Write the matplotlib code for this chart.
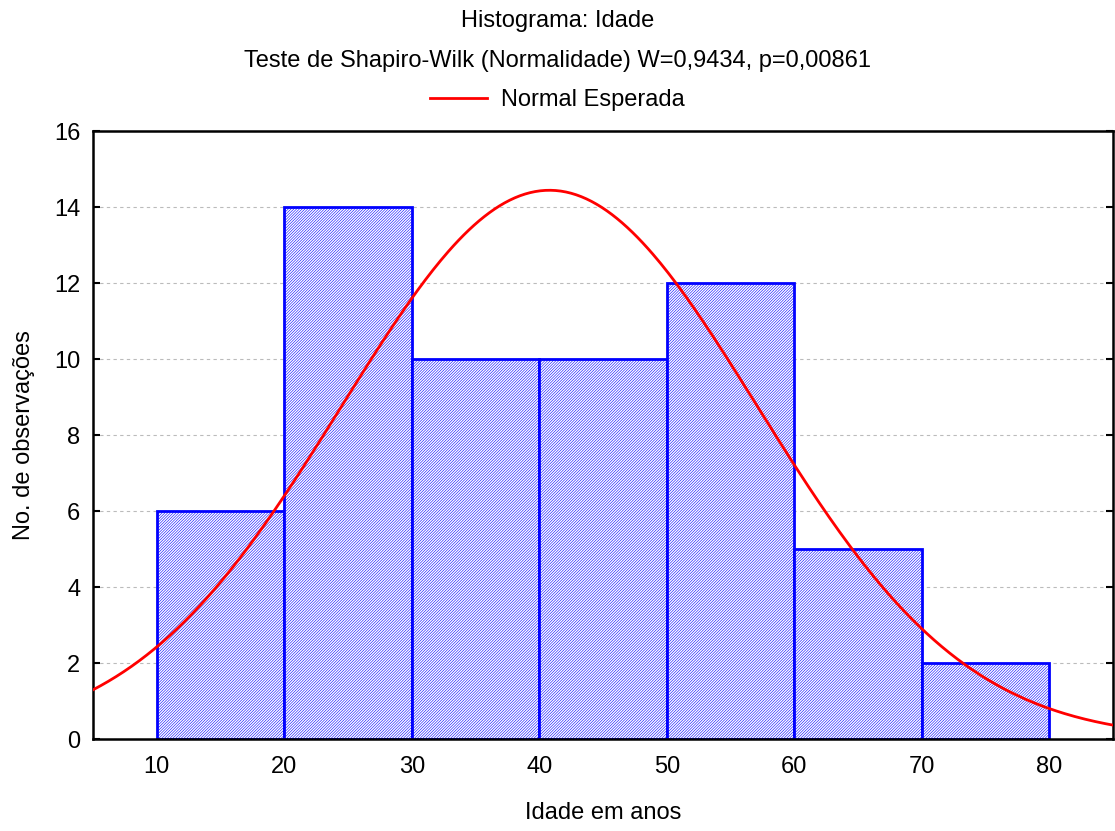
import numpy as np
import matplotlib.pyplot as plt

plt.rcParams['font.family'] = ['Liberation Sans', 'DejaVu Sans']
plt.rcParams['hatch.linewidth'] = 0.4

bin_edges = [10, 20, 30, 40, 50, 60, 70, 80]
counts = [6, 14, 10, 10, 12, 5, 2]
mean_age = 40.8
sd_age = 16.3

fig = plt.figure(figsize=(11.15, 8.31), dpi=100)
ax = fig.add_axes([93 / 1115, 1 - 739 / 831, 1020 / 1115, 608 / 831])

n = sum(counts)
width = bin_edges[1] - bin_edges[0]
ax.bar(bin_edges[:-1], counts, width=width, align='edge', color='white',
       edgecolor='#0000ff', linewidth=2, hatch='/' * 12, zorder=2)

xs = np.linspace(5, 85, 400)
ys = n * width / (sd_age * np.sqrt(2 * np.pi)) * np.exp(-(xs - mean_age) ** 2 / (2 * sd_age ** 2))
ax.plot(xs, ys, color='#ff0000', linewidth=2, zorder=3, label='Normal Esperada')

ax.set_xlim(5, 85)
ax.set_ylim(0, 16)
ax.set_xticks(range(10, 81, 10))
ax.set_yticks(range(0, 17, 2))
ax.grid(axis='y', color='#bbbbbb', linestyle=(0, (3, 3)), linewidth=0.8, zorder=0)
ax.tick_params(axis='y', labelsize=17, direction='in', length=5, width=1.5,
               right=True, pad=9)
ax.tick_params(axis='x', labelsize=17, length=0, pad=12)
for s in ax.spines.values():
    s.set_linewidth(1.8)

ax.set_xlabel('Idade em anos', fontsize=17)
ax.xaxis.set_label_coords(0.5, (739 - 802) / 608)
ax.set_ylabel('No. de observações', fontsize=17)
ax.yaxis.set_label_coords((35 - 93) / 1020, 0.5)

fig.text(0.5, 1 - 21 / 831, 'Histograma: Idade', ha='center', va='center', fontsize=17)
fig.text(0.5, 1 - 61 / 831, 'Teste de Shapiro-Wilk (Normalidade) W=0,9434, p=0,00861',
         ha='center', va='center', fontsize=17)
fig.legend(loc='center', bbox_to_anchor=(0.5, 1 - 100 / 831), frameon=False,
           fontsize=17, handlelength=2.4, handletextpad=0.6)

fig.savefig('out.png', dpi=100)
